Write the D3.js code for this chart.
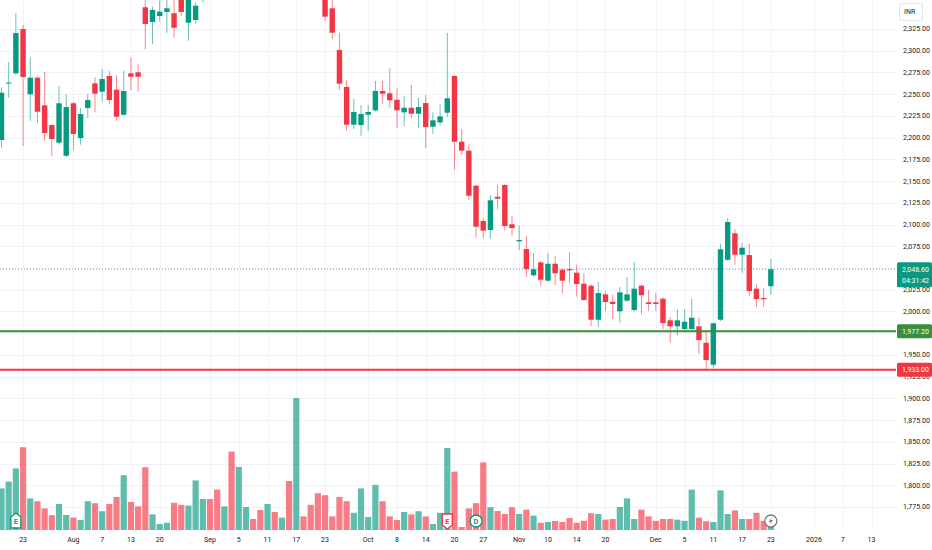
<!DOCTYPE html>
<html>
<head>
<meta charset="utf-8">
<script src="https://cdn.jsdelivr.net/npm/d3@7"></script>
<style>
  html, body { margin: 0; padding: 0; background: #fff; }
  svg { display: block; font-family: Roboto, "Liberation Sans", sans-serif; }
</style>
</head>
<body>
<div id="chart"></div>
<script>
// trading sessions shown (Jul 18 2025 -> Dec 23 2025)
const dates = [
  "2025-07-18","2025-07-21","2025-07-22","2025-07-23","2025-07-24","2025-07-25","2025-07-28","2025-07-29","2025-07-30","2025-07-31",
  "2025-08-01","2025-08-04","2025-08-05","2025-08-06","2025-08-07","2025-08-08","2025-08-11","2025-08-12","2025-08-13","2025-08-14",
  "2025-08-18","2025-08-19","2025-08-20","2025-08-21","2025-08-22","2025-08-25","2025-08-26","2025-08-28","2025-08-29",
  "2025-09-01","2025-09-02","2025-09-03","2025-09-04","2025-09-05","2025-09-08","2025-09-09","2025-09-10","2025-09-11","2025-09-12",
  "2025-09-15","2025-09-16","2025-09-17","2025-09-18","2025-09-19","2025-09-22","2025-09-23","2025-09-24","2025-09-25","2025-09-26",
  "2025-09-29","2025-09-30",
  "2025-10-01","2025-10-03","2025-10-06","2025-10-07","2025-10-08","2025-10-09","2025-10-10","2025-10-13","2025-10-14","2025-10-15",
  "2025-10-16","2025-10-17","2025-10-20","2025-10-21","2025-10-23","2025-10-24","2025-10-27","2025-10-28","2025-10-29","2025-10-30",
  "2025-10-31",
  "2025-11-03","2025-11-04","2025-11-06","2025-11-07","2025-11-10","2025-11-11","2025-11-12","2025-11-13","2025-11-14","2025-11-17",
  "2025-11-18","2025-11-19","2025-11-20","2025-11-21","2025-11-24","2025-11-25","2025-11-26","2025-11-27","2025-11-28",
  "2025-12-01","2025-12-02","2025-12-03","2025-12-04","2025-12-05","2025-12-08","2025-12-09","2025-12-10","2025-12-11","2025-12-12",
  "2025-12-15","2025-12-16","2025-12-17","2025-12-18","2025-12-19","2025-12-22","2025-12-23"
];
// empty sessions to the right of the last bar
const futureDates = [
  "2025-12-24","2025-12-26","2025-12-29","2025-12-30","2025-12-31","2026-01-01","2026-01-02",
  "2026-01-05","2026-01-06","2026-01-07","2026-01-08","2026-01-09","2026-01-12","2026-01-13"
];

const opens = [
  2197.3,2262.3,2274.0,2325.0,2249.9,2269.0,2237.2,2214.5,2194.2,2179.2,
  2239.5,2199.6,2234.1,2262.5,2252.9,2270.9,2255.2,2226.4,2274.0,2275.2,
  2350.0,2333.1,2340.0,2344.6,2343.1,2375.0,2332.2,2335.4,2362.0,
  2380,2372,2366,2395,2374,2410,2422,2416,2406,2420,
  2412,2424,2402,2438,2424,2400,2372,2348.8,2300.8,2258.3,
  2214.9,2214.5,
  2226.4,2231.4,2253.7,2251.0,2243.6,2229.1,2234.4,2227.5,2239.8,2212.6,
  2217.6,2228.7,2270.9,2195.3,2185.0,2144.7,2104.1,2093.7,2132.0,2145.5,
  2100.3,
  2080.7,2071.8,2041.6,2056.5,2035.4,2054.9,2048.0,2048.8,2044.6,2031.9,
  2029.6,1990.5,2019.7,2011.2,2000.2,2012.4,2001.6,2029.6,2010.5,
  2010.5,2014.7,1989.8,1982.9,1979.8,1979.8,1982.9,1964.0,1938.7,1990.5,
  2059.5,2089.9,2065.3,2064.9,2026.2,2015.5,2029.0
];
const highs = [
  2257.9,2287.0,2343.4,2329.6,2292.4,2270.5,2275.5,2216.0,2259.4,2249.9,
  2241.0,2233.7,2250.2,2269.4,2279.0,2277.0,2272.1,2277.0,2292.4,2284.4,
  2366.0,2350.7,2362.0,2365.0,2360.0,2385.0,2380.0,2355.3,2385.0,
  2388,2380,2388,2402,2418,2426,2428,2420,2424,2426,
  2428,2430,2452,2444,2428,2406,2378,2359.0,2320.7,2266.3,
  2244.5,2237.5,
  2237.5,2265.2,2265.2,2279.8,2256.8,2247.6,2260.6,2245.9,2249.4,2229.1,
  2238.4,2320.4,2272.0,2209.9,2192.3,2146.0,2107.2,2134.0,2145.5,2146.5,
  2109.8,
  2099.1,2087.2,2067.2,2058.0,2066.9,2064.1,2049.5,2068.0,2053.8,2044.2,
  2031.0,2034.2,2023.2,2018.9,2028.1,2039.6,2056.9,2031.0,2024.7,
  2021.2,2016.3,1993.6,2002.8,2002.8,2014.4,1993.2,1976.3,1987.0,2077.9,
  2107.5,2094.9,2079.1,2077.9,2031.2,2026.6,2060.3
];
const lows = [
  2188.4,2245.9,2272.0,2190.4,2219.5,2216.5,2196.1,2178.9,2192.0,2177.5,
  2185.8,2191.9,2222.6,2229.1,2241.3,2239.0,2219.5,2225.0,2254.8,2252.9,
  2301.6,2307.7,2333.4,2320.7,2315.0,2340.0,2311.5,2330.8,2355.5,
  2362,2360,2362,2366,2370,2404,2408,2398,2400,2406,
  2408,2394,2396,2420,2396,2370,2334.2,2313.1,2254.8,2207.6,
  2209.9,2202.2,
  2207.6,2230.0,2239.0,2234.4,2211.4,2213.4,2222.2,2210.7,2187.7,2204.2,
  2213.7,2223.4,2163.1,2180.8,2128.2,2084.8,2084.8,2083.7,2117.5,2092.9,
  2087.2,
  2070.7,2039.6,2040.0,2028.9,2034.0,2030.4,2020.9,2032.4,2017.0,2012.0,
  1982.9,1982.1,2000.5,1991.3,1986.4,2011.0,2000.0,1996.7,2000.5,
  2000.5,1979.0,1964.0,1972.5,1976.7,1978.5,1951.0,1933.0,1935.3,1989.0,
  2058.0,2053.8,2044.6,2017.8,2005.4,2005.1,2019.0
];
const closes = [
  2251.7,2263.4,2320.4,2269.8,2269.0,2229.8,2205.3,2198.4,2239.5,2235.2,
  2204.2,2227.2,2243.3,2250.6,2267.5,2243.3,2224.1,2253.7,2270.1,2270.1,
  2330.8,2346.9,2344.9,2348.8,2326.5,2344.6,2372.0,2351.8,2378.0,
  2368,2364,2382,2372,2410,2420,2414,2405,2418,2412,
  2422,2400,2440,2426,2402,2378,2339.2,2320.7,2262.1,2214.9,
  2229.5,2227.2,
  2229.5,2253.7,2250.6,2243.0,2231.4,2234.4,2227.5,2235.2,2212.2,2219.9,
  2224.5,2245.3,2195.3,2185.0,2133.2,2097.5,2092.9,2127.9,2129.7,2098.3,
  2096.0,
  2082.2,2048.8,2048.5,2036.5,2054.9,2043.9,2035.4,2047.3,2031.6,2013.2,
  1990.5,2021.2,2010.9,2008.6,2022.0,2019.7,2026.2,2018.6,2008.6,
  2008.6,1986.7,1982.9,1989.8,1988.2,1992.8,1967.1,1944.1,1986.4,2071.5,
  2102.9,2065.3,2073.3,2023.5,2014.3,2014.0,2048.6
];
// volume, thousands of shares
const volumes = [
  1040,1210,1540,2070,790,720,540,370,650,375,
  310,250,720,670,470,650,825,1370,700,590,
  1570,390,150,180,680,630,610,1240,775,
  775,1010,590,1960,1575,575,275,500,650,450,
  310,1225,3300,340,630,920,870,340,825,720,
  430,1040,
  325,1130,720,340,250,450,390,470,340,150,
  430,2050,1460,75,540,670,1690,570,475,400,
  570,
  400,510,360,180,200,225,200,300,180,230,
  420,400,260,275,575,790,275,510,340,
  230,275,275,260,230,1010,310,220,200,990,
  400,490,275,275,430,230,80
];

const priceTicks = [2325,2300,2275,2250,2225,2200,2175,2150,2125,2100,2075,2050,2025,2000,
                    1975,1950,1925,1900,1875,1850,1825,1800,1775];
const timeTicks = [
  ["2025-07-23","23"],["2025-08-01","Aug"],["2025-08-07","7"],["2025-08-13","13"],["2025-08-20","20"],
  ["2025-09-01","Sep"],["2025-09-05","5"],["2025-09-11","11"],["2025-09-17","17"],["2025-09-23","23"],
  ["2025-10-01","Oct"],["2025-10-08","8"],["2025-10-14","14"],["2025-10-20","20"],["2025-10-27","27"],
  ["2025-11-03","Nov"],["2025-11-10","10"],["2025-11-14","14"],["2025-11-20","20"],
  ["2025-12-01","Dec"],["2025-12-05","5"],["2025-12-11","11"],["2025-12-17","17"],["2025-12-23","23"],
  ["2026-01-01","2026"],["2026-01-07","7"],["2026-01-13","13"]
];
const supportLevel = 1977.20;
const lowLevel = 1933.00;
const countdown = "04:31:42";
const events = [
  {date: "2025-07-22", kind: "E", color: "#089981"},
  {date: "2025-10-17", kind: "E", color: "#f23645"},
  {date: "2025-10-24", kind: "D", color: "#089981"},
  {date: "2025-12-23", kind: "bolt", color: "#787b86"}
];

const W = 932, H = 550;
const plotW = 896, plotH = 530;
const up = "#089981", down = "#f23645";
const fmt = d3.format(",.2f");

const sessions = dates.concat(futureDates);
const idx = new Map(sessions.map((d, i) => [d, i]));

const bars = dates.map((d, i) => ({
  date: d, o: opens[i], h: highs[i], l: lows[i], c: closes[i], v: volumes[i]
}));
const last = bars[bars.length - 1];

const x = d3.scaleLinear().domain([0, sessions.length - 1]).range([1.5, 871.5]);
const y = d3.scaleLinear().domain([1775, 2325]).range([507, 29]);
const yv = d3.scaleLinear().domain([0, d3.max(volumes)]).range([plotH, plotH - 132]);

const svg = d3.select("#chart").append("svg")
  .attr("width", W).attr("height", H);

svg.append("defs").append("clipPath").attr("id", "plot")
  .append("rect").attr("width", plotW).attr("height", plotH);

const plot = svg.append("g").attr("clip-path", "url(#plot)");

// grid
plot.append("g").selectAll("line").data(priceTicks).enter().append("line")
  .attr("x1", 0).attr("x2", plotW)
  .attr("y1", d => Math.round(y(d)) + 0.5).attr("y2", d => Math.round(y(d)) + 0.5)
  .attr("stroke", "#f0f3fa");
plot.append("g").selectAll("line").data(timeTicks).enter().append("line")
  .attr("y1", 0).attr("y2", plotH)
  .attr("x1", d => Math.round(x(idx.get(d[0]))) + 0.5).attr("x2", d => Math.round(x(idx.get(d[0]))) + 0.5)
  .attr("stroke", "#f0f3fa");

// volume
plot.append("g").selectAll("rect").data(bars).enter().append("rect")
  .attr("x", d => x(idx.get(d.date)) - 3.1)
  .attr("width", 6.2)
  .attr("y", d => yv(d.v))
  .attr("height", d => plotH - yv(d.v))
  .attr("fill", d => d.c >= d.o ? up : down)
  .attr("fill-opacity", 0.65);

// current price line
plot.append("line")
  .attr("x1", 0).attr("x2", plotW)
  .attr("y1", y(last.c)).attr("y2", y(last.c))
  .attr("stroke", up).attr("stroke-width", 1).attr("stroke-dasharray", "1,2")
  .attr("opacity", 0.7);

// candles
const candle = plot.append("g").selectAll("g").data(bars).enter().append("g");
candle.append("line")
  .attr("x1", d => x(idx.get(d.date))).attr("x2", d => x(idx.get(d.date)))
  .attr("y1", d => y(d.h)).attr("y2", d => y(d.l))
  .attr("stroke", d => d.c >= d.o ? up : down)
  .attr("stroke-width", 1).attr("stroke-opacity", 0.6);
candle.append("rect")
  .attr("x", d => x(idx.get(d.date)) - 2.7)
  .attr("width", 5.4)
  .attr("y", d => y(Math.max(d.o, d.c)))
  .attr("height", d => Math.max(1, Math.abs(y(d.o) - y(d.c))))
  .attr("fill", d => d.c >= d.o ? up : down);

// horizontal levels
plot.append("line")
  .attr("x1", 0).attr("x2", plotW).attr("y1", y(supportLevel)).attr("y2", y(supportLevel))
  .attr("stroke", "#388e3c").attr("stroke-width", 2);
plot.append("line")
  .attr("x1", 0).attr("x2", plotW).attr("y1", y(lowLevel)).attr("y2", y(lowLevel))
  .attr("stroke", down).attr("stroke-width", 2);

// event markers
const ev = plot.append("g").selectAll("g").data(events).enter().append("g")
  .attr("transform", d => `translate(${x(idx.get(d.date))},521)`);
ev.filter(d => d.kind === "E").append("path")
  .attr("d", d => d.color === up
    ? "M0,-8 L5,-4 L5,7 L-5,7 L-5,-4 Z"
    : "M0,8 L5,4 L5,-7 L-5,-7 L-5,4 Z")
  .attr("fill", "#fff").attr("stroke", d => d.color).attr("stroke-width", 1.3);
ev.filter(d => d.kind === "D" || d.kind === "bolt").append("circle")
  .attr("r", 6).attr("fill", "#fff").attr("stroke", d => d.color).attr("stroke-width", 1.3);
ev.filter(d => d.kind !== "bolt").append("text")
  .attr("text-anchor", "middle").attr("dy", "0.35em")
  .attr("font-size", 7.5).attr("font-weight", "bold")
  .attr("fill", d => d.color)
  .text(d => d.kind);
ev.filter(d => d.kind === "bolt").append("path")
  .attr("d", "M1,-4 L-2,1 L0,1 L-1,4 L2,-1 L0,-1 Z")
  .attr("fill", "#787b86");

// price axis: labels hidden where a price tag sits on top of them
const tagPrices = [last.c, supportLevel];
const pAxis = svg.append("g").attr("font-size", 7).attr("fill", "#131722");
pAxis.selectAll("text")
  .data(priceTicks.filter(p => tagPrices.every(t => Math.abs(y(p) - y(t)) > 6)))
  .enter().append("text")
  .attr("x", 903).attr("y", d => y(d)).attr("dy", "0.35em")
  .text(d => fmt(d));

// INR box
pAxis.append("rect").attr("x", 899.5).attr("y", 3.5).attr("width", 23).attr("height", 17).attr("rx", 2)
  .attr("fill", "#fff").attr("stroke", "#e0e3eb");
pAxis.append("text").attr("x", 904).attr("y", 12).attr("dy", "0.35em").text("INR");

function tag(price, color, lines) {
  const h = lines.length * 11 + 3;
  const g = svg.append("g");
  g.append("rect").attr("x", 897).attr("y", y(price) - 7).attr("width", 35).attr("height", h)
    .attr("rx", 1.5).attr("fill", color);
  lines.forEach((t, i) => g.append("text")
    .attr("x", 902).attr("y", y(price) + i * 11).attr("dy", "0.35em")
    .attr("font-size", 7).attr("fill", "#fff").text(t));
}
tag(last.c, up, [fmt(last.c), countdown]);
tag(supportLevel, "#388e3c", [fmt(supportLevel)]);
tag(lowLevel, down, [fmt(lowLevel)]);

// time axis
svg.append("g").selectAll("text").data(timeTicks).enter().append("text")
  .attr("x", d => x(idx.get(d[0]))).attr("y", 540).attr("dy", "0.35em")
  .attr("text-anchor", "middle").attr("font-size", 7).attr("fill", "#131722")
  .text(d => d[1]);
</script>
</body>
</html>
